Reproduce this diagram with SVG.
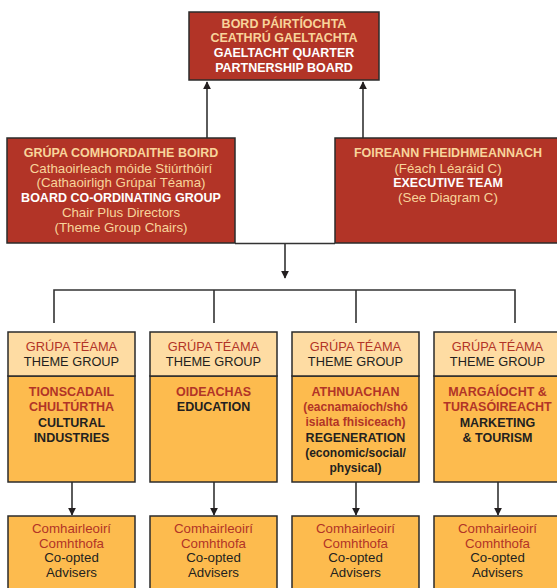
<svg xmlns="http://www.w3.org/2000/svg" width="557" height="588" viewBox="0 0 557 588">
<defs>
<marker id="ah" viewBox="0 0 10 10" refX="9" refY="5" markerWidth="8" markerHeight="8" markerUnits="userSpaceOnUse" orient="auto">
<path d="M0,0 L10,5 L0,10 z" fill="#231f20"/>
</marker>
<style>
text{font-family:"Liberation Sans",Arial,sans-serif;text-anchor:middle}
.red{fill:#b23427;stroke:#2b2b2b;stroke-width:1.5}
.hd{fill:#fedca3;stroke:#2b2b2b;stroke-width:1.5}
.bd{fill:#fdbb4e;stroke:#2b2b2b;stroke-width:1.5}
.b{font-weight:bold;font-size:12.5px}
.r{font-size:13.3px}
.h{font-size:12.8px}
.pe{fill:#f8d49b}
.wh{fill:#ffffff}
.rt{fill:#b23427}
.bk{fill:#231f20}
.con{stroke:#333;stroke-width:1.6;fill:none}
</style>
</defs>
<rect width="557" height="588" fill="#ffffff"/>

<g id="connectors">
<line class="con" x1="207" y1="138" x2="207" y2="82" marker-end="url(#ah)"/>
<line class="con" x1="363" y1="138" x2="363" y2="82" marker-end="url(#ah)"/>
<line class="con" x1="235" y1="243.5" x2="335" y2="243.5"/>
<line class="con" x1="285" y1="244" x2="285" y2="278" marker-end="url(#ah)"/>
<polyline class="con" points="54,323 54,290 515,290 515,323"/>
<line class="con" x1="214" y1="290" x2="214" y2="323"/>
<line class="con" x1="356" y1="290" x2="356" y2="323"/>
<line class="con" x1="72" y1="482" x2="72" y2="515" marker-end="url(#ah)"/>
<line class="con" x1="214" y1="482" x2="214" y2="515" marker-end="url(#ah)"/>
<line class="con" x1="356" y1="482" x2="356" y2="515" marker-end="url(#ah)"/>
<line class="con" x1="498" y1="482" x2="498" y2="515" marker-end="url(#ah)"/>
</g>

<g id="board">
<rect class="red" x="189" y="12" width="190" height="68"/>
<text class="b pe" x="284" y="28">BORD PÁIRTÍOCHTA</text>
<text class="b pe" x="284" y="42">CEATHRÚ GAELTACHTA</text>
<text class="b wh" x="284" y="57">GAELTACHT QUARTER</text>
<text class="b wh" x="284" y="72">PARTNERSHIP BOARD</text>
</g>

<g id="coord">
<rect class="red" x="7" y="138" width="228" height="105"/>
<text class="b pe" x="121" y="157">GRÚPA COMHORDAITHE BOIRD</text>
<text class="r pe" x="121" y="172.5">Cathaoirleach móide Stiúrthóirí</text>
<text class="r pe" x="121" y="187">(Cathaoirligh Grúpaí Téama)</text>
<text class="b wh" x="121" y="202">BOARD CO-ORDINATING GROUP</text>
<text class="r pe" x="121" y="217">Chair Plus Directors</text>
<text class="r pe" x="121" y="232">(Theme Group Chairs)</text>
</g>

<g id="exec">
<rect class="red" x="335" y="138" width="227" height="105"/>
<text class="b pe" x="448" y="157">FOIREANN FHEIDHMEANNACH</text>
<text class="r pe" x="448" y="172.5">(Féach Léaráid C)</text>
<text class="b wh" x="448" y="187">EXECUTIVE TEAM</text>
<text class="r pe" x="448" y="202">(See Diagram C)</text>
</g>

<g id="theme1">
<rect class="bd" x="8" y="376" width="127" height="106"/>
<rect class="hd" x="8" y="332" width="127" height="44"/>
<text class="h rt" x="71.5" y="351">GRÚPA TÉAMA</text>
<text class="h bk" x="71.5" y="365.5">THEME GROUP</text>
<text class="b rt" x="71.5" y="396">TIONSCADAIL</text>
<text class="b rt" x="71.5" y="411">CHULTÚRTHA</text>
<text class="b bk" x="71.5" y="427">CULTURAL</text>
<text class="b bk" x="71.5" y="442">INDUSTRIES</text>
</g>

<g id="theme2">
<rect class="bd" x="150" y="376" width="127" height="106"/>
<rect class="hd" x="150" y="332" width="127" height="44"/>
<text class="h rt" x="213.5" y="351">GRÚPA TÉAMA</text>
<text class="h bk" x="213.5" y="365.5">THEME GROUP</text>
<text class="b rt" x="213.5" y="396">OIDEACHAS</text>
<text class="b bk" x="213.5" y="411">EDUCATION</text>
</g>

<g id="theme3">
<rect class="bd" x="292" y="376" width="127" height="106"/>
<rect class="hd" x="292" y="332" width="127" height="44"/>
<text class="h rt" x="355.5" y="351">GRÚPA TÉAMA</text>
<text class="h bk" x="355.5" y="365.5">THEME GROUP</text>
<text class="b rt" x="355.5" y="396">ATHNUACHAN</text>
<text class="b rt" x="355.5" y="411" style="font-size:12px">(eacnamaíoch/shó</text>
<text class="b rt" x="355.5" y="426" style="font-size:12px">isialta fhisiceach)</text>
<text class="b bk" x="355.5" y="442">REGENERATION</text>
<text class="b bk" x="355.5" y="457" style="font-size:12px">(economic/social/</text>
<text class="b bk" x="355.5" y="472" style="font-size:12px">physical)</text>
</g>

<g id="theme4">
<rect class="bd" x="434" y="376" width="127" height="106"/>
<rect class="hd" x="434" y="332" width="127" height="44"/>
<text class="h rt" x="497.5" y="351">GRÚPA TÉAMA</text>
<text class="h bk" x="497.5" y="365.5">THEME GROUP</text>
<text class="b rt" x="497.5" y="396">MARGAÍOCHT &amp;</text>
<text class="b rt" x="497.5" y="411">TURASÓIREACHT</text>
<text class="b bk" x="497.5" y="427">MARKETING</text>
<text class="b bk" x="497.5" y="442">&amp; TOURISM</text>
</g>

<g id="adv1">
<rect class="bd" x="8" y="516" width="127" height="80"/>
<text class="r rt" x="71.5" y="533">Comhairleoirí</text>
<text class="r rt" x="71.5" y="547.5">Comhthofa</text>
<text class="r bk" x="71.5" y="562">Co-opted</text>
<text class="r bk" x="71.5" y="577">Advisers</text>
</g>
<g id="adv2">
<rect class="bd" x="150" y="516" width="127" height="80"/>
<text class="r rt" x="213.5" y="533">Comhairleoirí</text>
<text class="r rt" x="213.5" y="547.5">Comhthofa</text>
<text class="r bk" x="213.5" y="562">Co-opted</text>
<text class="r bk" x="213.5" y="577">Advisers</text>
</g>
<g id="adv3">
<rect class="bd" x="292" y="516" width="127" height="80"/>
<text class="r rt" x="355.5" y="533">Comhairleoirí</text>
<text class="r rt" x="355.5" y="547.5">Comhthofa</text>
<text class="r bk" x="355.5" y="562">Co-opted</text>
<text class="r bk" x="355.5" y="577">Advisers</text>
</g>
<g id="adv4">
<rect class="bd" x="434" y="516" width="127" height="80"/>
<text class="r rt" x="497.5" y="533">Comhairleoirí</text>
<text class="r rt" x="497.5" y="547.5">Comhthofa</text>
<text class="r bk" x="497.5" y="562">Co-opted</text>
<text class="r bk" x="497.5" y="577">Advisers</text>
</g>
</svg>
